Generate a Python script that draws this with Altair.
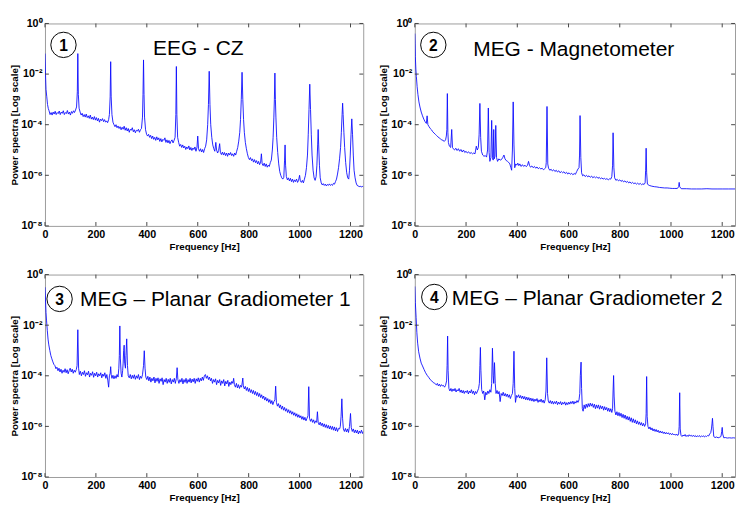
import altair as alt
import pandas as pd

X_TICKS = [0, 200, 400, 600, 800, 1000, 1200]
Y_DECADES = [0, -2, -4, -6, -8]
PANEL_NUMBERS = ["1", "2", "3", "4"]
PANEL_TITLES = ["EEG - CZ", "MEG - Magnetometer",
                "MEG \u2013 Planar Gradiometer 1", "MEG \u2013 Planar Gradiometer 2"]

# (frequency Hz, log10 power)
EEG_CZ = [(0,-1.19),(2,-2.0),(4,-2.6),(7,-2.9),(10,-3.2),(13,-3.36),(16,-3.45),(20,-3.6),(24,-3.52),(28,-3.62),(32,-3.5),(36,-3.58),(40,-3.47),(44,-3.6),(48,-3.52),(52,-3.56),(56,-3.46),(60,-3.6),(64,-3.5),(68,-3.55),(72,-3.45),(76,-3.6),(80,-3.52),(84,-3.56),(88,-3.44),(92,-3.58),(96,-3.5),(100,-3.62),(104,-3.48),(108,-3.55),(112,-3.45),(116,-3.52),(120,-3.42),(124,-3.3),(127,-2.7),(129,-1.19),(131,-2.8),(134,-3.35),(138,-3.5),(142,-3.62),(146,-3.55),(150,-3.68),(154,-3.6),(158,-3.7),(162,-3.58),(166,-3.72),(170,-3.65),(174,-3.75),(178,-3.62),(182,-3.78),(186,-3.7),(190,-3.8),(194,-3.68),(198,-3.82),(202,-3.72),(206,-3.85),(210,-3.75),(214,-3.9),(218,-3.78),(222,-3.84),(226,-3.76),(230,-3.88),(234,-3.8),(238,-3.9),(242,-3.85),(246,-3.92),(250,-3.8),(253,-3.6),(256,-2.9),(258,-1.51),(260,-2.9),(263,-3.6),(267,-3.9),(271,-4.0),(275,-4.08),(279,-4.0),(283,-4.12),(287,-4.05),(291,-4.15),(295,-4.08),(299,-4.2),(303,-4.1),(307,-4.18),(311,-4.06),(315,-4.22),(319,-4.12),(323,-4.25),(327,-4.15),(331,-4.3),(335,-4.18),(339,-4.22),(343,-4.12),(347,-4.28),(351,-4.2),(355,-4.32),(359,-4.22),(363,-4.25),(367,-4.18),(371,-4.3),(375,-4.2),(379,-4.15),(383,-3.7),(385,-2.8),(387,-1.44),(389,-2.8),(391,-3.7),(395,-4.2),(399,-4.38),(403,-4.45),(407,-4.38),(411,-4.5),(415,-4.42),(419,-4.55),(423,-4.45),(427,-4.58),(431,-4.5),(435,-4.62),(439,-4.48),(443,-4.6),(447,-4.52),(451,-4.66),(455,-4.55),(459,-4.68),(463,-4.58),(467,-4.62),(471,-4.52),(475,-4.7),(479,-4.6),(483,-4.72),(487,-4.62),(491,-4.75),(495,-4.65),(499,-4.6),(503,-4.72),(507,-4.62),(511,-4.5),(514,-3.6),(516,-1.7),(518,-3.6),(521,-4.5),(525,-4.7),(529,-4.85),(533,-4.78),(537,-4.9),(541,-4.8),(545,-4.92),(549,-4.85),(553,-4.98),(557,-4.88),(561,-4.95),(565,-4.84),(569,-5.0),(573,-4.9),(577,-5.02),(581,-4.92),(585,-4.98),(589,-4.88),(593,-5.05),(597,-4.9),(600,-4.45),(603,-4.95),(607,-5.05),(611,-4.95),(615,-5.08),(619,-4.98),(623,-5.1),(627,-4.95),(631,-4.85),(635,-4.6),(639,-4.0),(642,-3.2),(645,-1.89),(648,-3.2),(651,-4.0),(655,-4.5),(659,-4.8),(663,-4.95),(667,-5.05),(671,-4.7),(674,-5.0),(678,-5.12),(682,-5.02),(686,-4.75),(689,-5.1),(693,-5.18),(697,-5.08),(701,-5.2),(705,-5.1),(709,-5.22),(713,-5.12),(717,-5.25),(721,-5.12),(725,-5.2),(729,-5.1),(733,-5.22),(737,-5.15),(741,-5.25),(745,-5.12),(749,-5.2),(753,-5.05),(757,-4.9),(761,-4.65),(765,-4.3),(768,-3.8),(771,-3.0),(774,-1.93),(777,-3.0),(780,-3.8),(783,-4.3),(787,-4.7),(791,-4.95),(795,-5.15),(799,-5.3),(803,-5.38),(807,-5.3),(811,-5.42),(815,-5.35),(819,-5.48),(823,-5.38),(827,-5.5),(831,-5.42),(835,-5.55),(839,-5.45),(843,-5.58),(847,-5.48),(850,-5.15),(853,-5.55),(857,-5.62),(861,-5.52),(865,-5.65),(869,-5.55),(873,-5.68),(877,-5.6),(881,-5.65),(885,-5.5),(889,-5.4),(893,-5.0),(896,-4.5),(899,-3.7),(901,-3.0),(903,-1.96),(905,-3.0),(907,-3.7),(910,-4.5),(914,-5.1),(918,-5.55),(922,-5.85),(926,-6.0),(930,-6.1),(934,-6.15),(938,-6.08),(941,-5.4),(943,-4.8),(945,-5.6),(948,-6.05),(952,-6.18),(956,-6.1),(960,-6.22),(964,-6.12),(968,-6.25),(972,-6.15),(976,-6.28),(980,-6.18),(984,-6.25),(988,-6.15),(992,-6.28),(996,-6.2),(1000,-6.0),(1003,-6.22),(1007,-6.28),(1011,-6.2),(1015,-6.3),(1019,-6.15),(1023,-6.0),(1027,-5.7),(1031,-5.2),(1034,-4.4),(1037,-3.4),(1040,-2.4),(1043,-3.4),(1046,-4.4),(1049,-5.2),(1053,-5.8),(1057,-6.1),(1061,-6.2),(1065,-6.05),(1068,-5.6),(1071,-4.8),(1073,-4.19),(1075,-4.8),(1078,-5.6),(1081,-6.1),(1085,-6.3),(1089,-6.38),(1093,-6.33),(1097,-6.4),(1101,-6.35),(1105,-6.42),(1109,-6.36),(1113,-6.4),(1117,-6.34),(1121,-6.4),(1125,-6.36),(1129,-6.4),(1133,-6.32),(1137,-6.35),(1141,-6.25),(1145,-6.15),(1149,-5.95),(1153,-5.7),(1157,-5.35),(1161,-4.9),(1164,-4.3),(1167,-3.6),(1169,-3.15),(1171,-3.6),(1174,-4.3),(1177,-4.9),(1181,-5.5),(1185,-5.9),(1189,-6.1),(1193,-6.15),(1196,-5.8),(1199,-5.2),(1202,-4.4),(1205,-3.77),(1208,-4.4),(1211,-5.2),(1214,-5.8),(1218,-6.1),(1222,-6.3),(1226,-6.4),(1230,-6.42),(1234,-6.45),(1238,-6.43),(1242,-6.46),(1246,-6.44),(1250,-6.45)]

MEG_MAG = [(0,-0.4),(1,-0.8),(2,-1.3),(4,-1.8),(6,-2.1),(9,-2.5),(12,-2.8),(16,-3.1),(20,-3.3),(25,-3.5),(30,-3.65),(35,-3.78),(40,-3.88),(45,-3.95),(48,-3.65),(51,-4.0),(55,-4.07),(60,-4.15),(65,-4.2),(70,-4.28),(75,-4.33),(80,-4.38),(85,-4.43),(90,-4.48),(95,-4.52),(100,-4.56),(105,-4.6),(110,-4.62),(115,-4.66),(120,-4.6),(123,-4.45),(125,-4.2),(127,-2.77),(129,-4.3),(131,-4.7),(135,-4.85),(140,-4.9),(144,-4.19),(147,-4.9),(150,-4.95),(155,-5.0),(160,-4.93),(165,-5.02),(170,-4.95),(175,-5.05),(180,-4.98),(185,-5.08),(190,-5.0),(195,-5.1),(200,-5.05),(205,-5.12),(210,-5.07),(215,-5.14),(220,-5.1),(225,-5.15),(230,-5.12),(235,-5.15),(240,-4.85),(244,-5.0),(248,-4.9),(251,-4.4),(254,-3.16),(257,-4.5),(260,-5.05),(265,-5.2),(270,-5.25),(275,-5.22),(280,-5.28),(284,-5.0),(287,-3.34),(290,-5.1),(293,-5.45),(297,-5.3),(300,-3.83),(303,-5.3),(306,-5.4),(308,-4.19),(310,-5.35),(313,-5.25),(316,-4.03),(319,-5.3),(323,-5.45),(328,-5.35),(333,-5.4),(338,-5.38),(343,-5.3),(348,-5.2),(352,-5.35),(357,-5.42),(362,-5.45),(367,-5.5),(371,-5.55),(375,-5.7),(378,-5.8),(381,-5.0),(384,-3.1),(387,-4.8),(390,-5.7),(394,-5.55),(398,-5.6),(402,-5.52),(406,-5.62),(410,-5.55),(415,-5.65),(420,-5.58),(425,-5.65),(430,-5.6),(435,-5.66),(440,-5.6),(444,-5.45),(448,-5.62),(452,-5.68),(457,-5.63),(462,-5.7),(467,-5.65),(472,-5.72),(477,-5.67),(482,-5.74),(487,-5.7),(492,-5.75),(497,-5.72),(502,-5.78),(507,-5.74),(511,-5.7),(513,-5.5),(516,-3.28),(519,-5.55),(522,-5.72),(527,-5.8),(532,-5.76),(537,-5.83),(542,-5.78),(547,-5.85),(552,-5.8),(557,-5.87),(562,-5.82),(567,-5.9),(572,-5.85),(577,-5.9),(582,-5.86),(587,-5.93),(592,-5.88),(597,-5.95),(602,-5.9),(607,-5.96),(612,-5.92),(617,-5.98),(622,-5.93),(627,-5.96),(632,-5.85),(637,-5.75),(641,-5.7),(643,-5.2),(645,-3.64),(648,-5.3),(651,-5.9),(655,-6.02),(660,-5.98),(665,-6.05),(670,-6.0),(675,-6.06),(680,-6.02),(685,-6.08),(690,-6.03),(695,-6.1),(700,-6.05),(705,-6.1),(710,-6.06),(715,-6.12),(720,-6.08),(725,-6.14),(730,-6.1),(735,-6.15),(740,-6.12),(745,-6.16),(750,-6.13),(755,-6.18),(760,-6.14),(765,-6.15),(769,-6.05),(772,-5.6),(774,-4.32),(777,-5.7),(780,-6.1),(785,-6.2),(790,-6.16),(795,-6.22),(800,-6.18),(805,-6.24),(810,-6.2),(815,-6.26),(820,-6.22),(825,-6.28),(830,-6.24),(835,-6.3),(840,-6.26),(845,-6.32),(850,-6.28),(855,-6.33),(860,-6.3),(865,-6.35),(870,-6.31),(875,-6.36),(880,-6.32),(885,-6.37),(890,-6.34),(895,-6.36),(899,-6.3),(901,-5.8),(903,-4.93),(905,-5.9),(908,-6.35),(915,-6.4),(925,-6.43),(935,-6.45),(945,-6.46),(955,-6.48),(965,-6.49),(975,-6.5),(985,-6.5),(995,-6.51),(1005,-6.52),(1015,-6.52),(1025,-6.52),(1030,-6.45),(1032,-6.28),(1034,-6.45),(1040,-6.53),(1060,-6.53),(1080,-6.54),(1100,-6.54),(1120,-6.54),(1140,-6.53),(1160,-6.54),(1180,-6.54),(1200,-6.54),(1225,-6.54),(1250,-6.54)]

MEG_GRAD1 = [(0,-0.5),(2,-1.0),(4,-1.5),(6,-1.8),(9,-2.2),(12,-2.55),(15,-2.78),(19,-3.0),(23,-3.2),(27,-3.33),(31,-3.45),(35,-3.55),(39,-3.6),(43,-3.72),(47,-3.66),(51,-3.8),(55,-3.7),(59,-3.85),(63,-3.74),(67,-3.9),(71,-3.78),(75,-3.86),(79,-3.72),(83,-3.88),(87,-3.76),(91,-3.92),(95,-3.8),(99,-3.7),(103,-3.85),(107,-3.74),(111,-3.9),(115,-3.78),(119,-3.86),(123,-3.75),(126,-3.6),(129,-2.18),(132,-3.7),(135,-3.95),(139,-3.82),(143,-4.0),(147,-3.86),(151,-3.95),(155,-3.8),(159,-4.02),(163,-3.88),(167,-3.96),(171,-3.82),(175,-4.05),(179,-3.9),(183,-3.98),(187,-3.84),(191,-4.06),(195,-3.9),(199,-4.0),(203,-3.86),(207,-4.05),(211,-3.92),(215,-4.0),(219,-3.88),(223,-4.08),(227,-3.93),(231,-4.02),(235,-3.88),(239,-4.1),(243,-3.95),(247,-4.2),(250,-4.45),(253,-4.0),(256,-3.9),(258,-3.64),(260,-3.95),(263,-4.1),(267,-3.98),(271,-4.12),(275,-4.0),(279,-4.1),(283,-3.95),(287,-4.05),(290,-3.7),(292,-3.2),(294,-2.03),(296,-3.3),(299,-3.9),(302,-4.05),(305,-3.8),(307,-3.5),(309,-3.0),(311,-2.79),(313,-3.5),(316,-3.7),(318,-3.2),(321,-2.54),(324,-3.6),(327,-4.0),(331,-4.08),(335,-3.95),(339,-4.12),(343,-3.98),(347,-4.1),(351,-3.96),(355,-4.14),(359,-4.0),(363,-4.1),(367,-3.95),(371,-4.15),(375,-4.02),(379,-4.1),(383,-3.96),(387,-3.6),(390,-3.01),(393,-3.7),(396,-4.05),(400,-4.15),(404,-4.02),(408,-4.2),(412,-4.05),(416,-4.25),(420,-4.1),(424,-4.2),(428,-4.05),(432,-4.28),(436,-4.1),(440,-4.22),(444,-4.08),(448,-4.3),(452,-4.12),(456,-4.22),(460,-4.08),(464,-4.35),(468,-4.15),(472,-4.25),(476,-4.1),(480,-4.3),(484,-4.14),(488,-4.26),(492,-4.1),(496,-4.32),(500,-4.15),(504,-4.25),(508,-4.1),(512,-4.3),(516,-4.1),(519,-3.68),(522,-4.15),(526,-4.3),(530,-4.15),(534,-4.25),(538,-4.1),(542,-4.32),(546,-4.15),(550,-4.26),(554,-4.1),(558,-4.3),(562,-4.15),(566,-4.25),(570,-4.1),(574,-4.28),(578,-4.13),(582,-4.24),(586,-4.1),(590,-4.3),(594,-4.12),(598,-4.22),(602,-4.08),(606,-4.25),(610,-4.1),(614,-4.2),(618,-4.05),(622,-4.18),(626,-4.0),(630,-3.95),(634,-4.1),(638,-4.0),(642,-4.15),(646,-4.05),(650,-4.2),(654,-4.1),(658,-4.3),(662,-4.15),(666,-4.25),(670,-4.12),(674,-4.35),(678,-4.18),(682,-4.28),(686,-4.15),(690,-4.38),(694,-4.2),(698,-4.3),(702,-4.15),(706,-4.4),(710,-4.22),(714,-4.32),(718,-4.18),(722,-4.42),(726,-4.25),(730,-4.35),(734,-4.22),(738,-4.3),(741,-4.1),(744,-4.35),(748,-4.45),(752,-4.3),(756,-4.48),(760,-4.35),(764,-4.5),(768,-4.38),(772,-4.45),(775,-4.25),(777,-4.09),(779,-4.4),(783,-4.52),(787,-4.42),(791,-4.58),(795,-4.46),(799,-4.62),(803,-4.5),(807,-4.66),(811,-4.55),(815,-4.7),(819,-4.58),(823,-4.74),(827,-4.62),(831,-4.78),(835,-4.66),(839,-4.82),(843,-4.7),(847,-4.86),(851,-4.75),(855,-4.9),(859,-4.8),(863,-4.96),(867,-4.85),(871,-5.0),(875,-4.9),(879,-5.05),(883,-4.94),(887,-5.1),(891,-4.98),(895,-5.14),(899,-5.02),(903,-4.95),(906,-4.41),(909,-5.05),(913,-5.2),(917,-5.1),(921,-5.26),(925,-5.15),(929,-5.32),(933,-5.2),(937,-5.36),(941,-5.25),(945,-5.4),(949,-5.3),(953,-5.45),(957,-5.34),(961,-5.48),(965,-5.38),(969,-5.52),(973,-5.42),(977,-5.56),(981,-5.46),(985,-5.6),(989,-5.5),(993,-5.64),(997,-5.54),(1001,-5.66),(1005,-5.58),(1009,-5.72),(1013,-5.61),(1017,-5.75),(1021,-5.64),(1025,-5.78),(1029,-5.68),(1033,-5.58),(1036,-4.43),(1039,-5.68),(1043,-5.8),(1047,-5.7),(1051,-5.84),(1055,-5.74),(1059,-5.88),(1063,-5.78),(1067,-5.84),(1070,-5.42),(1073,-5.84),(1077,-5.94),(1081,-5.83),(1085,-5.97),(1089,-5.87),(1093,-6.01),(1097,-5.9),(1101,-6.04),(1105,-5.93),(1109,-6.07),(1113,-5.96),(1117,-6.1),(1121,-5.98),(1125,-6.12),(1129,-6.0),(1133,-6.15),(1137,-6.02),(1141,-6.18),(1145,-6.05),(1149,-6.2),(1153,-6.08),(1157,-6.1),(1160,-6.0),(1163,-5.6),(1166,-4.91),(1169,-5.7),(1172,-6.1),(1176,-6.2),(1180,-6.08),(1184,-6.22),(1188,-6.1),(1192,-6.24),(1196,-6.0),(1200,-5.49),(1203,-6.05),(1207,-6.2),(1211,-6.1),(1215,-6.25),(1219,-6.14),(1223,-6.26),(1227,-6.15),(1231,-6.3),(1235,-6.18),(1239,-6.27),(1243,-6.15),(1247,-6.28),(1250,-6.2)]

MEG_GRAD2 = [(0,-0.47),(2,-1.1),(5,-1.69),(8,-2.3),(11,-2.71),(15,-3.05),(20,-3.3),(25,-3.5),(30,-3.61),(36,-3.75),(42,-3.88),(48,-3.98),(54,-4.06),(60,-4.15),(66,-4.2),(72,-4.27),(78,-4.3),(84,-4.36),(88,-4.3),(92,-4.4),(96,-4.33),(100,-4.42),(104,-4.35),(108,-4.4),(112,-4.38),(116,-4.45),(120,-4.38),(124,-4.2),(126,-3.6),(128,-2.43),(130,-3.8),(133,-4.5),(137,-4.6),(141,-4.5),(145,-4.62),(149,-4.52),(153,-4.6),(157,-4.5),(161,-4.64),(165,-4.55),(169,-4.6),(173,-4.5),(177,-4.65),(181,-4.56),(185,-4.68),(189,-4.58),(193,-4.7),(197,-4.6),(201,-4.66),(205,-4.58),(209,-4.72),(213,-4.6),(217,-4.68),(221,-4.55),(225,-4.7),(229,-4.6),(233,-4.75),(237,-4.62),(241,-4.7),(245,-4.6),(249,-4.5),(252,-4.3),(254,-3.6),(256,-2.88),(258,-3.8),(261,-4.55),(265,-4.7),(269,-4.6),(273,-4.95),(277,-4.65),(281,-4.75),(285,-4.6),(289,-4.7),(293,-4.55),(297,-4.65),(300,-4.3),(303,-2.91),(306,-4.0),(308,-4.3),(311,-3.48),(314,-4.3),(317,-4.7),(321,-4.58),(325,-4.72),(329,-4.62),(333,-5.02),(337,-4.7),(341,-4.78),(345,-4.65),(349,-4.8),(353,-4.7),(357,-4.82),(361,-4.72),(365,-4.85),(369,-4.75),(373,-4.9),(377,-4.78),(381,-4.7),(384,-4.3),(387,-3.03),(390,-4.5),(393,-5.05),(397,-4.78),(401,-4.85),(405,-4.75),(409,-4.88),(413,-4.78),(417,-4.9),(421,-4.8),(425,-4.92),(429,-4.82),(433,-4.95),(437,-4.84),(441,-4.96),(445,-4.86),(449,-4.98),(453,-4.88),(457,-5.0),(461,-4.9),(465,-5.02),(469,-4.92),(473,-5.0),(477,-4.9),(481,-5.05),(485,-4.95),(489,-5.03),(493,-4.92),(497,-5.05),(501,-4.96),(505,-5.08),(509,-4.95),(512,-4.6),(515,-3.29),(518,-4.7),(521,-5.0),(525,-5.08),(529,-4.98),(533,-5.1),(537,-5.0),(541,-5.12),(545,-5.02),(549,-5.1),(553,-5.0),(557,-5.14),(561,-5.04),(565,-5.12),(569,-5.02),(573,-5.15),(577,-5.05),(581,-5.12),(585,-5.03),(589,-5.16),(593,-5.06),(597,-5.14),(601,-5.04),(605,-5.12),(609,-5.02),(613,-5.1),(617,-5.0),(621,-5.12),(625,-5.02),(629,-5.08),(633,-4.98),(637,-5.05),(641,-4.95),(644,-4.7),(646,-4.0),(649,-3.46),(651,-4.5),(654,-5.3),(657,-5.4),(661,-5.15),(665,-5.3),(669,-5.12),(673,-5.25),(677,-5.1),(681,-5.22),(685,-5.08),(689,-5.2),(693,-5.1),(697,-5.25),(701,-5.12),(705,-5.3),(709,-5.15),(713,-5.28),(717,-5.15),(721,-5.32),(725,-5.18),(729,-5.3),(733,-5.2),(737,-5.36),(741,-5.22),(745,-5.35),(749,-5.25),(753,-5.4),(757,-5.28),(761,-5.42),(765,-5.3),(769,-5.45),(772,-5.3),(774,-4.6),(776,-3.99),(778,-4.8),(781,-5.4),(785,-5.55),(789,-5.42),(793,-5.58),(797,-5.45),(801,-5.6),(805,-5.48),(809,-5.65),(813,-5.52),(817,-5.68),(821,-5.55),(825,-5.72),(829,-5.6),(833,-5.75),(837,-5.62),(841,-5.8),(845,-5.66),(849,-5.84),(853,-5.7),(857,-5.86),(861,-5.74),(865,-5.9),(869,-5.78),(873,-5.92),(877,-5.82),(881,-5.95),(885,-5.85),(889,-5.98),(893,-5.88),(897,-6.0),(901,-5.9),(903,-5.5),(905,-4.03),(907,-5.6),(910,-6.0),(914,-6.1),(918,-6.02),(922,-6.14),(926,-6.06),(930,-6.18),(934,-6.1),(938,-6.2),(942,-6.12),(946,-6.22),(950,-6.15),(954,-6.25),(958,-6.18),(962,-6.26),(966,-6.2),(970,-6.28),(974,-6.22),(978,-6.3),(982,-6.24),(986,-6.3),(990,-6.25),(994,-6.32),(998,-6.27),(1002,-6.33),(1006,-6.28),(1010,-6.34),(1014,-6.3),(1018,-6.35),(1022,-6.3),(1026,-6.36),(1030,-6.3),(1032,-6.0),(1034,-4.67),(1036,-6.1),(1039,-6.35),(1043,-6.4),(1047,-6.34),(1051,-6.38),(1055,-6.32),(1059,-6.4),(1063,-6.35),(1067,-6.4),(1071,-6.33),(1075,-6.38),(1079,-6.35),(1083,-6.4),(1087,-6.35),(1091,-6.4),(1095,-6.36),(1099,-6.42),(1103,-6.37),(1107,-6.4),(1111,-6.36),(1115,-6.42),(1119,-6.38),(1123,-6.4),(1127,-6.37),(1131,-6.42),(1135,-6.38),(1139,-6.4),(1143,-6.36),(1147,-6.38),(1151,-6.3),(1155,-6.25),(1158,-6.1),(1160,-5.9),(1162,-5.68),(1164,-6.0),(1167,-6.4),(1172,-6.44),(1178,-6.42),(1184,-6.45),(1190,-6.43),(1195,-6.4),(1198,-6.2),(1200,-6.04),(1202,-6.3),(1206,-6.45),(1212,-6.44),(1220,-6.46),(1228,-6.45),(1236,-6.46),(1244,-6.45),(1250,-6.46)]

W_LEFT, W_RIGHT, H = 327, 329, 208
FONT = "Liberation Sans"

Y_LABEL_EXPR = ("datum.value > 0.1 ? '10\u2070' : datum.value > 1e-3 ? '10\u207b\u00b2' : "
                "datum.value > 1e-5 ? '10\u207b\u2074' : datum.value > 1e-7 ? '10\u207b\u2076' : '10\u207b\u2078'")

X_SCALE = alt.Scale(domain=[0, 1250], nice=False, zero=False)
Y_SCALE = alt.Scale(type="log", domain=[1e-8, 1], nice=False)
X_AXIS = alt.Axis(values=X_TICKS, format="d", labelFlush=False, labelOverlap=False,
                  title="Frequency [Hz]")
Y_AXIS = alt.Axis(values=[10.0 ** d for d in Y_DECADES], labelExpr=Y_LABEL_EXPR,
                  labelOverlap=False, title="Power spectra [Log scale]")


def xenc(field):
    return alt.X(field, type="quantitative", scale=X_SCALE, axis=X_AXIS)


def yenc(field):
    return alt.Y(field, type="quantitative", scale=Y_SCALE, axis=Y_AXIS)


def panel(points, num, title, W, tx, ty, cx, cy):
    df = pd.DataFrame(points, columns=["f", "logp"])
    df["p"] = 10.0 ** df["logp"]

    line = alt.Chart(df).mark_line(color="#0a0aff", strokeWidth=0.9, clip=True).encode(
        x=xenc("f"), y=yenc("p"))

    xt = pd.DataFrame({"f": X_TICKS})
    yt = pd.DataFrame({"p": [10.0 ** d for d in Y_DECADES]})
    tick_style = dict(color="#444444", strokeWidth=1)
    xtop = alt.Chart(xt).mark_rule(**tick_style).encode(
        x=xenc("f"), y=alt.value(0), y2=alt.value(4))
    xbot = alt.Chart(xt).mark_rule(**tick_style).encode(
        x=xenc("f"), y=alt.value(H), y2=alt.value(H - 4))
    yleft = alt.Chart(yt).mark_rule(**tick_style).encode(
        y=yenc("p"), x=alt.value(0), x2=alt.value(4))
    yright = alt.Chart(yt).mark_rule(**tick_style).encode(
        y=yenc("p"), x=alt.value(W), x2=alt.value(W - 4))

    lab = pd.DataFrame({"label": [title], "num": [num]})
    ttl = alt.Chart(lab).mark_text(align="left", baseline="alphabetic", font=FONT,
                                   fontSize=21.5, color="black").encode(
        x=alt.value(tx), y=alt.value(ty), text="label:N")
    circ = alt.Chart(lab).mark_point(shape="circle", filled=False, size=680, color="black",
                                     strokeWidth=1, opacity=1).encode(
        x=alt.value(cx), y=alt.value(cy))
    nlab = alt.Chart(lab).mark_text(align="center", baseline="middle", font=FONT,
                                    fontSize=16, fontWeight="bold", color="black").encode(
        x=alt.value(cx), y=alt.value(cy + 1), text="num:N")

    return alt.layer(line, xtop, xbot, yleft, yright, ttl, circ, nlab).properties(width=W, height=H)


p1 = panel(EEG_CZ, PANEL_NUMBERS[0], PANEL_TITLES[0], W_LEFT, 111, 32, 19, 22)
p2 = panel(MEG_MAG, PANEL_NUMBERS[1], PANEL_TITLES[1], W_RIGHT, 60, 33, 19, 22)
p3 = panel(MEG_GRAD1, PANEL_NUMBERS[2], PANEL_TITLES[2], W_LEFT, 36, 32, 15, 25)
p4 = panel(MEG_GRAD2, PANEL_NUMBERS[3], PANEL_TITLES[3], W_RIGHT, 38, 31, 20, 23)

chart = alt.vconcat(
    alt.hconcat(p1, p2, spacing=14),
    alt.hconcat(p3, p4, spacing=14),
    spacing=16,
).configure_view(stroke="#9a9a9a", strokeWidth=1).configure_axis(
    domain=False, ticks=False, grid=False,
    labelFont=FONT, labelFontSize=11, labelFontWeight="bold", labelColor="black",
    labelPadding=3,
    titleFont=FONT, titleFontSize=10, titleFontWeight="bold", titleColor="black",
    titlePadding=2,
).properties(padding={"left": 0, "top": 2, "right": 0, "bottom": 0})

chart.save("out.html", embed_options={"renderer": "svg", "actions": False})
